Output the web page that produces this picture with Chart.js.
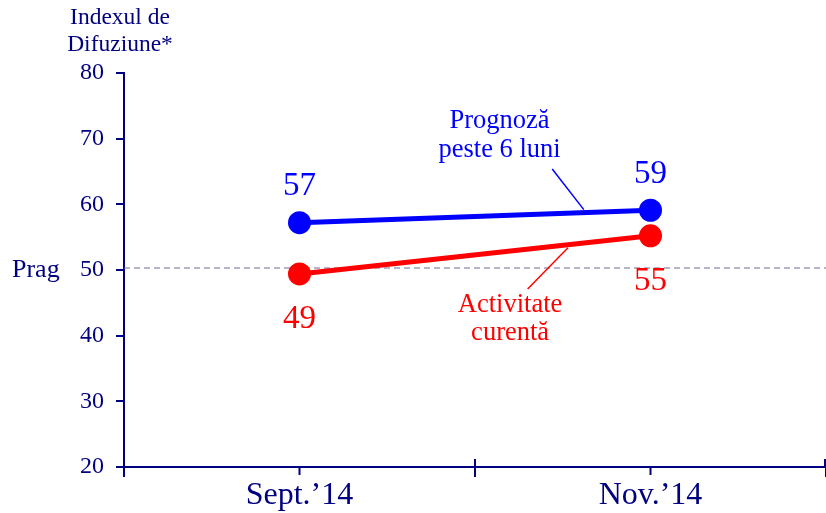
<!DOCTYPE html>
<html>
<head>
<meta charset="utf-8">
<script src="https://cdn.jsdelivr.net/npm/chart.js@4"></script>
<style>
  html, body { margin: 0; padding: 0; background: #fff; overflow: hidden; }
  canvas { display: block; }
</style>
</head>
<body>
<canvas id="chart" width="826" height="513"></canvas>
<script>
// date grafic
var luni = ["Sept.\u201914", "Nov.\u201914"];
var prognoza = [57.2, 59.1];
var activitate = [49.4, 55.2];
var etichetePrognoza = ["57", "59"];
var eticheteActivitate = ["49", "55"];
var prag = 50;

var NAVY = "#000080";
var SERIF = "'Liberation Serif', 'Times New Roman', serif";

// desene suplimentare: titlu axa, prag, etichete, adnotari
var extra = {
    id: 'extra',
    beforeDatasetsDraw: function(chart){
        var c = chart.ctx, y = chart.scales.y, a = chart.chartArea;
        var y50 = y.getPixelForValue(prag);
        c.save();
        c.strokeStyle = "#6a6a9a";
        c.lineWidth = 1;
        c.setLineDash([6, 4]);
        c.beginPath();
        c.moveTo(a.left, y50 - 2);
        c.lineTo(a.right, y50 - 2);
        c.stroke();
        c.restore();
    },
    afterDraw: function(chart){
        var c = chart.ctx, x = chart.scales.x, y = chart.scales.y, a = chart.chartArea;
        c.save();
        // tick-uri axa x
        c.strokeStyle = NAVY;
        c.lineWidth = 2;
        var x0 = x.getPixelForValue(0), x1 = x.getPixelForValue(1);
        var half = (x1 - x0) / 2;
        [x0 - half, x0 + half, Math.min(x1 + half, a.right - 1)].forEach(function(px){
            c.beginPath(); c.moveTo(px, a.bottom); c.lineTo(px, a.bottom - 8); c.stroke();
        });
        [x0, x1].forEach(function(px){
            c.beginPath(); c.moveTo(px, a.bottom); c.lineTo(px, a.bottom + 8); c.stroke();
        });

        c.textAlign = "center";
        c.textBaseline = "middle";
        c.fillStyle = NAVY;
        c.font = "23.5px " + SERIF;
        c.fillText("Indexul de", 120, 18);
        c.fillText("Difuziune*", 120, 45);
        c.font = "26px " + SERIF;
        c.textAlign = "left";
        c.fillText("Prag", 12, y.getPixelForValue(prag));

        // etichete valori
        c.textAlign = "center";
        c.font = "33px " + SERIF;
        c.fillStyle = "#0000ff";
        prognoza.forEach(function(v, i){
            c.fillText(etichetePrognoza[i], x.getPixelForValue(i), y.getPixelForValue(v) - 36);
        });
        c.fillStyle = "#ff0000";
        activitate.forEach(function(v, i){
            c.fillText(eticheteActivitate[i], x.getPixelForValue(i), y.getPixelForValue(v) + 45);
        });

        // adnotari
        function lx(t){ return x0 + t * (x1 - x0); }
        function lv(s, t){ return s[0] + t * (s[1] - s[0]); }
        c.font = "26.5px " + SERIF;
        c.fillStyle = "#0000ff";
        c.fillText("Prognoz\u0103", lx(0.57), 121);
        c.fillText("peste 6 luni", lx(0.57), 150);
        c.strokeStyle = "#0000ff";
        c.lineWidth = 1.5;
        c.beginPath();
        c.moveTo(lx(0.72), 169);
        c.lineTo(lx(0.81), y.getPixelForValue(lv(prognoza, 0.81)) - 3);
        c.stroke();

        c.fillStyle = "#ff0000";
        c.fillText("Activitate", lx(0.6), 305);
        c.fillText("curent\u0103", lx(0.6), 333);
        c.strokeStyle = "#ff0000";
        c.beginPath();
        c.moveTo(lx(0.65), 289);
        c.lineTo(lx(0.765), y.getPixelForValue(lv(activitate, 0.765)) + 3);
        c.stroke();
        c.restore();
    }
};

new Chart(document.getElementById('chart'), {
    type: 'line',
    data: {
        labels: luni,
        datasets: [{
            data: prognoza,
            borderColor: "#0000ff",
            backgroundColor: "#0000ff",
            borderWidth: 5,
            pointRadius: 9,
            pointHoverRadius: 9
        }, {
            data: activitate,
            borderColor: "#ff0000",
            backgroundColor: "#ff0000",
            borderWidth: 5,
            pointRadius: 9,
            pointHoverRadius: 9
        }]
    },
    options: {
        responsive: false,
        animation: false,
        layout: { autoPadding: false, padding: { top: 73, left: 0, right: 0, bottom: 0 } },
        plugins: { legend: { display: false }, tooltip: { enabled: false } },
        scales: {
            x: {
                offset: true,
                afterFit: function(s){ s.height = 46; s.paddingLeft = 0; s.paddingRight = 0; },
                grid: { offset: true, drawOnChartArea: false, color: NAVY, lineWidth: 2, tickLength: 10 },
                border: { color: NAVY, width: 2 },
                ticks: { color: NAVY, font: { family: SERIF, size: 32 }, padding: -1 }
            },
            y: {
                min: 20,
                max: 80,
                afterFit: function(s){ s.width = 124; },
                grid: { drawOnChartArea: false, color: NAVY, lineWidth: 2, tickLength: 8 },
                border: { color: NAVY, width: 2 },
                ticks: { stepSize: 10, color: NAVY, font: { family: SERIF, size: 24 }, padding: 12 }
            }
        }
    },
    plugins: [extra]
});
</script>
</body>
</html>
